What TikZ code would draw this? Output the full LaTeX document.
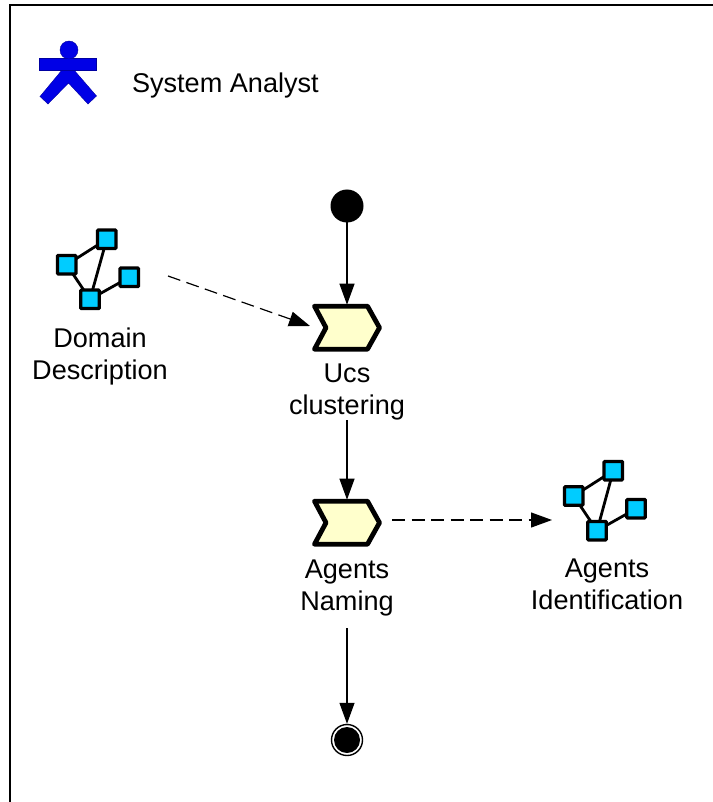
\documentclass[tikz,border=0pt]{standalone}
\usepackage{fontspec}
\setmainfont{Liberation Sans}
\usetikzlibrary{arrows.meta}
\definecolor{actorblue}{RGB}{0,0,230}
\definecolor{chevfill}{RGB}{255,255,204}
\definecolor{sqfill}{RGB}{0,204,255}
\tikzset{
  x=1pt,y=-1pt,
  lbl/.style={align=center,font=\fontsize{27.1}{32}\selectfont,inner sep=0pt,outer sep=0pt},
  sq/.style={draw=black,fill=sqfill,line width=3.2pt,minimum size=18.5pt,inner sep=0pt,outer sep=0pt,rounded corners=0.8pt},
  link/.style={draw=black,line width=2.8pt},
  flow/.style={draw=black,line width=1.2pt,-{Triangle[length=21pt,width=15pt]}},
  dflow/.style={flow,dash pattern=on 13pt off 6.5pt},
  chevbox/.style={minimum width=68pt,minimum height=46pt,inner sep=0pt,outer sep=0pt},
}
\newcommand{\chevshape}[3]{%
  \node[chevbox] (#1) at (#2,#3) {};
  \draw[black,fill=chevfill,line width=4.8pt,line join=round]
    (#2-32.5,#3-21.5) -- (#2+20.5,#3-21.5) -- (#2+32.5,#3) -- (#2+20.5,#3+21.5) -- (#2-32.5,#3+21.5) -- (#2-21,#3) -- cycle;
}
\newcommand{\neticon}[9]{%
  \node[sq] (#1t) at (#2,#3) {};
  \node[sq] (#1l) at (#4,#5) {};
  \node[sq] (#1b) at (#6,#7) {};
  \node[sq] (#1r) at (#8,#9) {};
  \draw[link] (#1l) -- (#1t);
  \draw[link] (#1t) -- (#1b);
  \draw[link] (#1l) -- (#1b);
  \draw[link] (#1r) -- (#1b);
}
\begin{document}
\begin{tikzpicture}
\useasboundingbox (0,0) rectangle (712,802);
% frame
\draw[black,line width=1.8pt] (9.7,806) -- (9.7,5.3) -- (716,5.3);
% actor
\fill[actorblue,draw=actorblue!70!black,line width=0.4pt]
  (62,70) -- (40,96.5) -- (48,104) -- (68.5,83) -- (88,104) -- (96.5,96) -- (74,70) -- cycle;
\fill[actorblue,draw=actorblue!70!black,line width=0.4pt] (39.5,58) rectangle (96,70);
\node[circle,fill=actorblue,draw=actorblue!70!black,line width=0.4pt,minimum size=18pt,inner sep=0pt] (head) at (69,50) {};
\node[lbl,anchor=west] (actorlabel) at (132,85) {System Analyst};
% start, end
\node[circle,fill=black,minimum size=33pt,inner sep=0pt,outer sep=0pt] (start) at (347,206) {};
\node[circle,draw=black,line width=1.4pt,fill=white,minimum size=31pt,inner sep=0pt,outer sep=0.7pt] (end) at (347,740) {};
\node[circle,fill=black,minimum size=26pt,inner sep=0pt] (endcore) at (347,740) {};
% chevrons
\chevshape{ucs}{347}{327.7}
\chevshape{naming}{347}{522.7}
% labels
\node[lbl] (ucslabel) at (347,392) {Ucs\\clustering};
\node[lbl] (naminglabel) at (347,588) {Agents\\Naming};
\node[lbl] (domainlabel) at (100,356) {Domain\\Description};
\node[lbl] (agentslabel) at (607,584.5) {Agents\\Identification};
% icons
\neticon{d}{106.7}{239.3}{66.7}{264.7}{90}{299.3}{129.3}{277.3}
\neticon{a}{613.3}{470.7}{573.7}{496}{597}{530.7}{636}{508.7}
% connectors
\coordinate (domainout) at (168,276);
\coordinate (ucsin) at (310,326);
\coordinate (namingout) at (392,520);
\coordinate (agentsin) at (552,520);
\draw[flow] (start) -- (ucs.north);
\draw[flow] (ucslabel.south) -- (naming.north);
\draw[flow,shorten <=12pt] (naminglabel.south) -- (end.north);
\draw[dflow] (domainout) -- (ucsin);
\draw[dflow] (namingout) -- (agentsin);
\end{tikzpicture}
\end{document}
